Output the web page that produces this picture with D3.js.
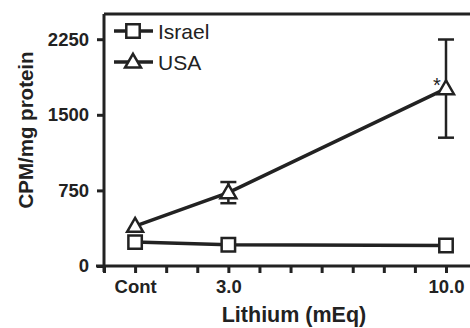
<!DOCTYPE html>
<html><head><meta charset="utf-8">
<script src="https://cdn.jsdelivr.net/npm/d3@7"></script>
<style>body{margin:0;background:#fff}svg{display:block}text{font-family:"Liberation Sans",Arial,sans-serif;fill:#222}</style>
</head><body>
<script>
const xPositions = [0, 3, 10];
const xTickLabels = ["Cont", "3.0", "10.0"];
const israel = [237, 210, 203];
const israelErr = [0, 0, 0];
const usa = [395, 728, 1760];
const usaErr = [0, 105, 487];
const yTicks = [0, 750, 1500, 2250];

const W = 470, H = 328;
const svg = d3.select("body").append("svg").attr("width", W).attr("height", H);
const x = d3.scaleLinear().domain([-1, 10]).range([104, 446]);
const y = d3.scaleLinear().domain([0, 2500]).range([266, 14]);
const ink = "#222";

// frame: top line
svg.append("line").attr("x1", 104).attr("x2", 472).attr("y1", y(2500)).attr("y2", y(2500))
  .attr("stroke", ink).attr("stroke-width", 3);

// y axis
const ya = svg.append("g").attr("transform", `translate(${x(-1)},0)`)
  .call(d3.axisLeft(y).tickValues(yTicks).tickSize(7).tickPadding(8).tickFormat(d3.format("d")));
ya.select(".domain").attr("d", `M0,${y(2500)}V${y(0)+6}`).attr("stroke", ink).attr("stroke-width", 3);
ya.selectAll(".tick line").attr("stroke", ink).attr("stroke-width", 3);
ya.selectAll(".tick text").attr("font-size", 18.5).attr("font-weight", "bold").style("fill", ink);

// x axis
const xa = svg.append("g").attr("transform", `translate(0,${y(0)})`)
  .call(d3.axisBottom(x).tickValues(d3.range(-1, 11)).tickSize(7).tickPadding(7)
    .tickFormat(d => { const i = xPositions.indexOf(d); return i >= 0 ? xTickLabels[i] : ""; }));
xa.select(".domain").attr("d", `M96,0H472`).attr("stroke", ink).attr("stroke-width", 3);
xa.selectAll(".tick line").attr("stroke", ink).attr("stroke-width", 3);
xa.selectAll(".tick text").attr("font-size", 18.5).attr("font-weight", "bold").style("fill", ink);

// axis titles
svg.append("text").attr("x", 294).attr("y", 322).attr("text-anchor", "middle")
  .attr("font-size", 21.5).attr("font-weight", "bold").text("Lithium (mEq)");
svg.append("text").attr("transform", `translate(33,130) rotate(-90)`).attr("text-anchor", "middle")
  .attr("font-size", 20.5).attr("font-weight", "bold").text("CPM/mg protein");

const line = d3.line().x((d, i) => x(xPositions[i])).y(d => y(d));

function errorBars(vals, errs) {
  vals.forEach((v, i) => {
    if (!errs[i]) return;
    const cx = x(xPositions[i]);
    const g = svg.append("g").attr("stroke", ink).attr("stroke-width", 2.5);
    g.append("line").attr("x1", cx).attr("x2", cx).attr("y1", y(v - errs[i])).attr("y2", y(v + errs[i]));
    [v - errs[i], v + errs[i]].forEach(e => g.append("line").attr("x1", cx - 8).attr("x2", cx + 8).attr("y1", y(e)).attr("y2", y(e)));
  });
}
errorBars(usa, usaErr);
errorBars(israel, israelErr);

svg.append("path").datum(israel).attr("d", line).attr("fill", "none").attr("stroke", ink).attr("stroke-width", 3.5);
svg.append("path").datum(usa).attr("d", line).attr("fill", "none").attr("stroke", ink).attr("stroke-width", 3.5);

const sq = d3.symbol().type(d3.symbolSquare).size(180);
const tri = d3.symbol().type(d3.symbolTriangle).size(110);
svg.selectAll(".isq").data(israel).enter().append("path")
  .attr("transform", (d, i) => `translate(${x(xPositions[i])},${y(d)})`)
  .attr("d", sq).attr("fill", "#fff").attr("stroke", ink).attr("stroke-width", 2.5);
svg.selectAll(".utr").data(usa).enter().append("path")
  .attr("transform", (d, i) => `translate(${x(xPositions[i])},${y(d) + 1})`)
  .attr("d", tri).attr("fill", "#fff").attr("stroke", ink).attr("stroke-width", 2.5);

// significance star
svg.append("text").attr("x", x(10) - 9).attr("y", y(usa[2]) + 3).attr("text-anchor", "middle")
  .attr("font-size", 20).text("*");

// legend
const leg = [["Israel", sq, 31], ["USA", tri, 62]];
leg.forEach(([name, sym, ly]) => {
  svg.append("line").attr("x1", 114).attr("x2", 153).attr("y1", ly).attr("y2", ly).attr("stroke", ink).attr("stroke-width", 3.5);
  svg.append("path").attr("transform", `translate(133,${ly + (sym === tri ? 1 : 0)})`).attr("d", sym)
    .attr("fill", "#fff").attr("stroke", ink).attr("stroke-width", 2.5);
  svg.append("text").attr("x", 158).attr("y", ly + 7.5).attr("font-size", 21).text(name);
});
</script>
</body></html>
